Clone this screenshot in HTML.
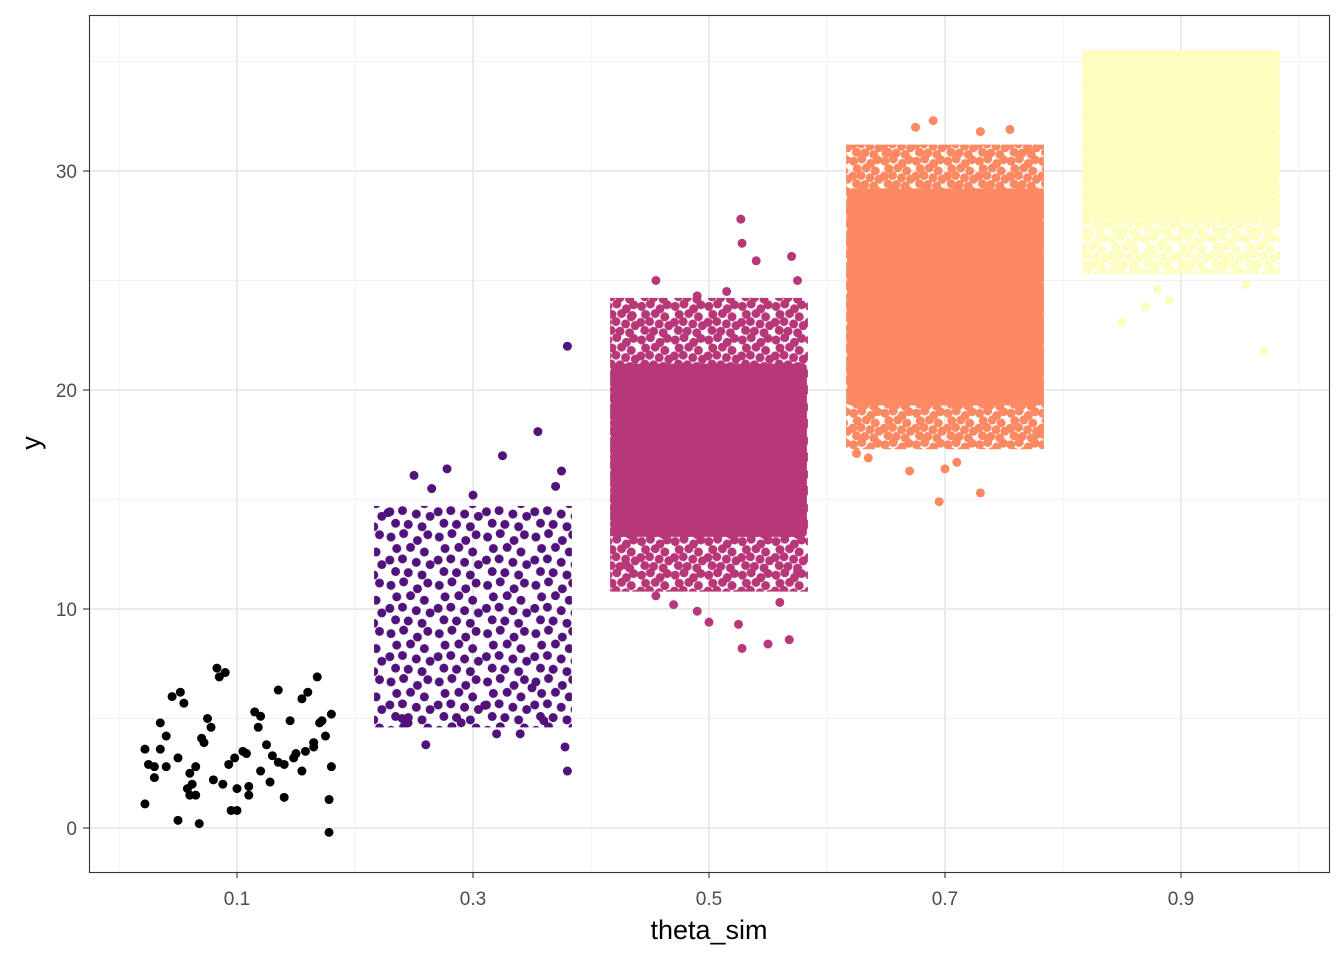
<!DOCTYPE html>
<html><head><meta charset="utf-8"><style>
body{margin:0;background:#fff;}
svg text{font-family:"Liberation Sans",sans-serif;}
</style></head><body>
<svg id="chart" width="1344" height="960" xmlns="http://www.w3.org/2000/svg">
<rect width="1344" height="960" fill="#fff"/>
<g id="grid"></g>
<g id="marks"></g>
<rect x="89.5" y="15.5" width="1240" height="857" fill="none" stroke="#333" stroke-width="1.1"/>
<g id="axes"></g>
<text x="709" y="939" font-size="27" text-anchor="middle" fill="#000">theta_sim</text>
<text transform="translate(40,443) rotate(-90)" font-size="27" text-anchor="middle" fill="#000">y</text>
</svg>
<script>
const xTicks=[0.1,0.3,0.5,0.7,0.9];
const xMinor=[0,0.2,0.4,0.6,0.8,1.0];
const yTicks=[0,10,20,30];
const yMinor=[5,15,25,35];
const groupTheta=[0.3,0.5,0.7,0.9];
const groupColor=["#51127c","#b73779","#fc8961","#fcfdbf"];
const bandLo=[4.8,11,17.5,25.5];
const bandHi=[14.5,24,31,35.3];
const coreLo=[null,13.5,19.5,28];
const coreHi=[null,21,29,35.3];
const blackX=[0.022,0.022,0.03,0.035,0.04,0.045,0.05,0.052,0.055,0.058,0.062,0.065,0.068,0.07,0.075,0.08,0.083,0.085,0.09,0.095,0.098,0.1,0.105,0.11,0.115,0.12,0.125,0.13,0.135,0.14,0.145,0.15,0.155,0.16,0.165,0.168,0.17,0.175,0.178,0.178,0.18,0.18,0.04,0.06,0.072,0.088,0.11,0.12,0.14,0.165,0.155,0.03,0.035,0.05,0.065,0.078,0.093,0.108,0.118,0.128,0.148,0.158,0.172,0.025,0.06,0.1,0.135];
const blackY=[1.1,3.6,2.8,4.8,4.2,6.0,0.35,6.2,5.7,1.8,2.0,2.8,0.2,4.1,5.0,2.2,7.3,6.9,7.1,0.8,3.2,1.8,3.5,1.9,5.3,5.1,3.8,3.3,6.3,2.9,4.9,3.4,2.6,6.2,3.9,6.9,4.8,4.2,1.3,-0.2,2.8,5.2,2.8,1.5,3.9,2.0,1.5,2.6,1.4,3.7,5.9,2.3,3.6,3.2,1.5,4.6,2.9,3.4,4.6,2.1,3.2,3.5,4.9,2.9,2.5,0.8,3.0];
const outX=[[0.38,0.355,0.325,0.278,0.25,0.38,0.378,0.26,0.32,0.34,0.29,0.24,0.36,0.375,0.37,0.3,0.265,0.228,0.245,0.31,0.35],
[0.527,0.528,0.57,0.575,0.49,0.455,0.54,0.515,0.528,0.55,0.568,0.5,0.49,0.455,0.47,0.525,0.56,0.435,0.43,0.575],
[0.69,0.675,0.73,0.755,0.695,0.73,0.7,0.67,0.625,0.635,0.775,0.77,0.65,0.71,0.78],
[0.85,0.97,0.87,0.88,0.89,0.955,0.83,0.86,0.94,0.97]];
const outY=[[22,18.1,17,16.4,16.1,2.6,3.7,3.8,4.3,4.3,4.8,5.0,4.9,16.3,15.6,15.2,15.5,14.4,4.8,5.6,6.4],
[27.8,26.7,26.1,25,24.3,25,25.9,24.5,8.2,8.4,8.6,9.4,9.9,10.6,10.2,9.3,10.3,23.4,12,11.7],
[32.3,32,31.8,31.9,14.9,15.3,16.4,16.3,17.1,16.9,17.8,31,30.8,16.7,18],
[23.1,21.8,23.8,24.6,24.1,24.8,25.7,25.6,26,26.1]];
const X=v=>119+(v)*1180;
const Y=v=>828-v*21.9;
const NS="http://www.w3.org/2000/svg";
function mk(tag,attrs,parent){const e=document.createElementNS(NS,tag);for(const k in attrs)e.setAttribute(k,attrs[k]);parent.appendChild(e);return e;}
const grid=document.getElementById('grid'),marks=document.getElementById('marks'),axes=document.getElementById('axes');
xMinor.forEach(v=>{const l=mk('line',{x1:X(v),x2:X(v),y1:15,y2:872,stroke:'#f2f2f2','stroke-width':1},grid);

});
yMinor.forEach(v=>{const l=mk('line',{x1:89,x2:1329,y1:Y(v),y2:Y(v),stroke:'#f2f2f2','stroke-width':1},grid);

});
xTicks.forEach(v=>{const l=mk('line',{x1:X(v),x2:X(v),y1:15,y2:872,stroke:'#ebebeb','stroke-width':2},grid);


mk('line',{x1:X(v),x2:X(v),y1:872,y2:878,stroke:'#333','stroke-width':1.1},axes);
const t=mk('text',{x:X(v),y:905,'font-size':19,'text-anchor':'middle',fill:'#4d4d4d'},axes);t.textContent=v;

});
yTicks.forEach(v=>{const l=mk('line',{x1:89,x2:1329,y1:Y(v),y2:Y(v),stroke:'#ebebeb','stroke-width':2},grid);


mk('line',{x1:83,x2:89,y1:Y(v),y2:Y(v),stroke:'#333','stroke-width':1.1},axes);
const t=mk('text',{x:77,y:Y(v)+7,'font-size':19,'text-anchor':'end',fill:'#4d4d4d'},axes);t.textContent=v;

});
const defs=mk('defs',{},document.getElementById('chart'));
// irregular dot tile (styling only)
const tileDots=[[4,5],[15,2],[27,8],[36,3],[9,15],[21,14],[33,18],[3,25],[14,24],[26,27],[38,29],[8,35],[19,36],[31,38]];
const tileScale=[1.15,0.8,0.75,0.8];
const R=4.5;
groupTheta.forEach((th,i)=>{
  const s=tileScale[i],T=42*s;
  const p=mk('pattern',{id:'pat'+i,width:T,height:T,patternUnits:'userSpaceOnUse'},defs);
  tileDots.forEach(d=>{
    [[0,0],[-T,0],[0,-T],[-T,-T]].forEach(o=>mk('circle',{cx:d[0]*s+o[0]+ (d[0]*s>T-R?0:0),cy:d[1]*s+o[1],r:R,fill:groupColor[i]},p));
    mk('circle',{cx:d[0]*s+T,cy:d[1]*s,r:R,fill:groupColor[i]},p);
    mk('circle',{cx:d[0]*s,cy:d[1]*s+T,r:R,fill:groupColor[i]},p);
  });
  const x0=X(th-0.08)-R,x1=X(th+0.08)+R;
  const b=mk('rect',{x:x0,y:Y(bandHi[i])-R,width:x1-x0,height:Y(bandLo[i])-Y(bandHi[i])+2*R,fill:'url(#pat'+i+')'},marks);
  
  
  if(coreLo[i]!==null){
    const c=mk('rect',{x:x0+1,y:Y(coreHi[i])-R,width:x1-x0-2,height:Y(coreLo[i])-Y(coreHi[i])+2*R,fill:groupColor[i],rx:4},marks);
    
    
  }
  outX[i].forEach((v,j)=>{const c=mk('circle',{cx:X(v),cy:Y(outY[i][j]),r:R,fill:groupColor[i]},marks);
    
    });
});
blackX.forEach((v,j)=>{const c=mk('circle',{cx:X(v),cy:Y(blackY[j]),r:R,fill:'#000004'},marks);
  
  });
</script>
</body></html>
